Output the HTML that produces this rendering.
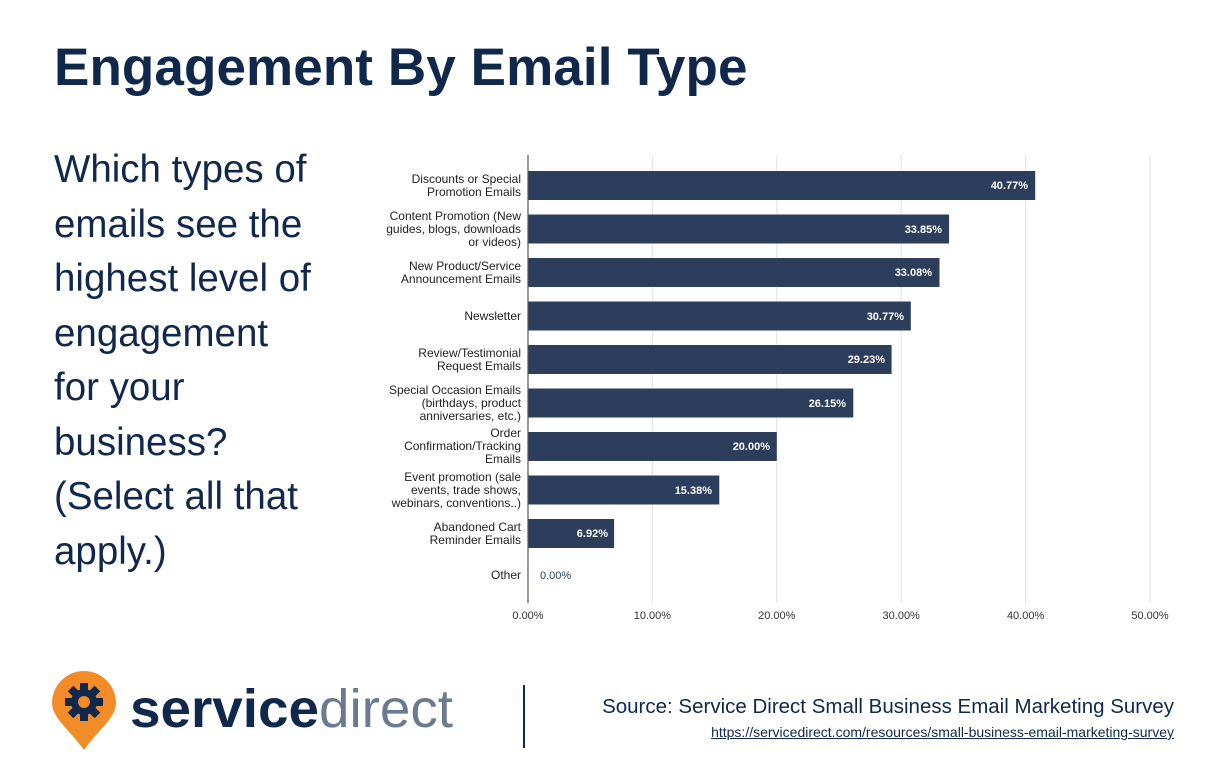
<!DOCTYPE html>
<html><head><meta charset="utf-8"><style>
body{margin:0;width:1224px;height:768px;background:#fff;overflow:hidden;font-family:"Liberation Sans",sans-serif;position:relative}
.t{position:absolute;left:54px;top:37px;font-size:53px;font-weight:bold;color:#10284b;letter-spacing:0.1px}
.q{position:absolute;left:54px;top:143px;font-size:38.5px;line-height:54.5px;color:#10284b}
.src{position:absolute;right:50px;top:695px;text-align:right;color:#10284b;font-size:20.5px}
.src a{display:block;font-size:14px;color:#10284b;text-decoration:underline;margin-top:5px}
</style></head><body>
<div class="t">Engagement By Email Type</div>
<div class="q">Which types of<br>emails see the<br>highest level of<br>engagement<br>for your<br>business?<br>(Select all that<br>apply.)</div>
<svg width="1224" height="768" style="position:absolute;left:0;top:0" font-family="Liberation Sans, sans-serif">
<g stroke="#e2e2e2" stroke-width="1">
<line x1="652.4" y1="155" x2="652.4" y2="603"/><line x1="776.8" y1="155" x2="776.8" y2="603"/><line x1="901.2" y1="155" x2="901.2" y2="603"/><line x1="1025.6" y1="155" x2="1025.6" y2="603"/><line x1="1150" y1="155" x2="1150" y2="603"/>
</g>
<g fill="#2c3e5c">
<rect x="528" y="171" width="507.2" height="29"/>
<rect x="528" y="214.5" width="421.1" height="29"/>
<rect x="528" y="258" width="411.5" height="29"/>
<rect x="528" y="301.5" width="382.8" height="29"/>
<rect x="528" y="345" width="363.6" height="29"/>
<rect x="528" y="388.5" width="325.3" height="29"/>
<rect x="528" y="432" width="248.8" height="29"/>
<rect x="528" y="475.5" width="191.3" height="29"/>
<rect x="528" y="519" width="86.1" height="29"/>
</g>
<line x1="528" y1="155" x2="528" y2="603" stroke="#555" stroke-width="1.2"/>
<g fill="#fff" font-size="11" font-weight="bold" text-anchor="end">
<text x="1028" y="189">40.77%</text><text x="942" y="233">33.85%</text><text x="932" y="276">33.08%</text><text x="904" y="320">30.77%</text><text x="885" y="363">29.23%</text><text x="846" y="407">26.15%</text><text x="770" y="450">20.00%</text><text x="712" y="494">15.38%</text><text x="608" y="537">6.92%</text>
</g>
<text x="540" y="579" font-size="11" fill="#2c3e5c">0.00%</text>
<g font-size="12" fill="#222" text-anchor="end">
<text x="521" y="183">Discounts or Special</text><text x="521" y="196">Promotion Emails</text>
<text x="521" y="220">Content Promotion (New</text><text x="521" y="233">guides, blogs, downloads</text><text x="521" y="246">or videos)</text>
<text x="521" y="270">New Product/Service</text><text x="521" y="283">Announcement Emails</text>
<text x="521" y="320">Newsletter</text>
<text x="521" y="357">Review/Testimonial</text><text x="521" y="370">Request Emails</text>
<text x="521" y="394">Special Occasion Emails</text><text x="521" y="407">(birthdays, product</text><text x="521" y="420">anniversaries, etc.)</text>
<text x="521" y="437">Order</text><text x="521" y="450">Confirmation/Tracking</text><text x="521" y="463">Emails</text>
<text x="521" y="481">Event promotion (sale</text><text x="521" y="494">events, trade shows,</text><text x="521" y="507">webinars, conventions..)</text>
<text x="521" y="531">Abandoned Cart</text><text x="521" y="544">Reminder Emails</text>
<text x="521" y="579">Other</text>
</g>
<g font-size="11" fill="#333" text-anchor="middle">
<text x="528" y="619">0.00%</text><text x="652.4" y="619">10.00%</text><text x="776.8" y="619">20.00%</text><text x="901.2" y="619">30.00%</text><text x="1025.6" y="619">40.00%</text><text x="1150" y="619">50.00%</text>
</g>
<path d="M84 750 C70 730 52 718 52 703 A32 32 0 1 1 116 703 C116 718 98 730 84 750Z" fill="#f28c28"/>
<g transform="translate(84,702)" fill="#10284b">
<circle r="13"/>
<g><rect x="-4" y="-19" width="8" height="38"/><rect x="-19" y="-4" width="38" height="8"/>
<rect x="-4" y="-19" width="8" height="38" transform="rotate(45)"/><rect x="-4" y="-19" width="8" height="38" transform="rotate(-45)"/></g>
<circle r="6" fill="#f28c28"/>
</g>
<text x="130" y="727" font-size="54" font-weight="bold" fill="#10284b" textLength="323" lengthAdjust="spacingAndGlyphs">service<tspan font-weight="normal" fill="#6b7a8f">direct</tspan></text>
<line x1="524" y1="685" x2="524" y2="748" stroke="#10284b" stroke-width="2"/>
</svg>
<div class="src">Source: Service Direct Small Business Email Marketing Survey<a>https://servicedirect.com/resources/small-business-email-marketing-survey</a></div>
</body></html>
